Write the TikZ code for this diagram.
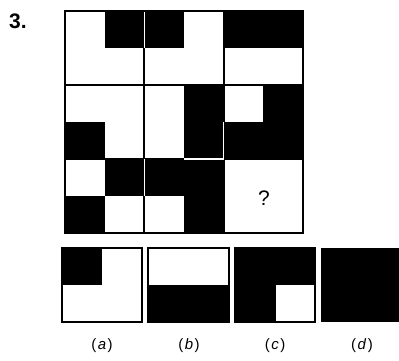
\documentclass[tikz,border=0pt]{standalone}
\usepackage{fontspec}
\newfontfamily\figfont{Liberation Sans}
\usepackage{tikz}
\usetikzlibrary{positioning,calc}

\begin{document}
\begin{tikzpicture}[x=1pt,y=-1pt,
  blk/.style={fill=black},
  gridline/.style={line width=2pt},
  gapline/.style={white,line width=1.3pt},
  optbox/.style={line width=1.3pt},
  optlabel/.style={font=\figfont\fontsize{15}{18}\selectfont}]
\useasboundingbox (0,0) rectangle (399,360);
% problem figure, six by six quadrants
\def\qw{39.667}
\def\qh{37}
\foreach \i/\j in {1/0,2/0,4/0,5/0, 3/2,5/2, 0/3,3/3,4/3,5/3, 1/4,2/4,3/4, 0/5,3/5}
  \fill[blk] ({65+\i*\qw},{11+\j*\qh}) rectangle ++(\qw,\qh);
\draw[gridline] (65,11) rectangle (303,233);
\draw[gridline] ({65+2*\qw},11) -- ({65+2*\qw},233);
\draw[gridline] ({65+4*\qw},11) -- ({65+4*\qw},233);
\draw[gridline] (65,{11+2*\qh}) -- (303,{11+2*\qh});
\draw[gridline] (65,{11+4*\qh}) -- (303,{11+4*\qh});
% white seams where two black parts meet
\draw[gapline] ({65+2*\qw},12) -- ({65+2*\qw},{11+\qh});
\draw[gapline] ({65+2*\qw},{11+4*\qh}) -- ({65+2*\qw},{11+5*\qh});
\draw[gapline] ({65+3*\qw},{11+4*\qh}) -- ({65+4*\qw},{11+4*\qh});
\draw[gapline] ({65+4*\qw},{11+3*\qh}) -- ({65+4*\qw},{11+4*\qh});
\node[font=\figfont\bfseries\fontsize{21}{24}\selectfont] (num) at (18,21) {3.};
\node[font=\figfont\fontsize{21}{24}\selectfont] (qmark) at (264,198) {?};
% answer figures
\fill[blk] (62,248) rectangle (102,285);
\draw[optbox] (62,248) rectangle (142,322);
\fill[blk] (148,285) rectangle (229,322);
\draw[optbox] (148,248) rectangle (229,322);
\fill[blk] (235,248) rectangle (315,322);
\fill[white] (276,285) rectangle (315,322);
\draw[optbox] (235,248) rectangle (315,322);
\fill[blk] (321,248) rectangle (400,322);
\node[optlabel] (la) at (102,346) {(\kern1.5pt\textit{a}\kern1.5pt)};
\node[optlabel] (lb) at (189,346) {(\kern1.5pt\textit{b}\kern1.5pt)};
\node[optlabel] (lc) at (275,346) {(\kern1.5pt\textit{c}\kern1.5pt)};
\node[optlabel] (ld) at (362,346) {(\kern1.5pt\textit{d}\kern1.5pt)};
\end{tikzpicture}
\end{document}
